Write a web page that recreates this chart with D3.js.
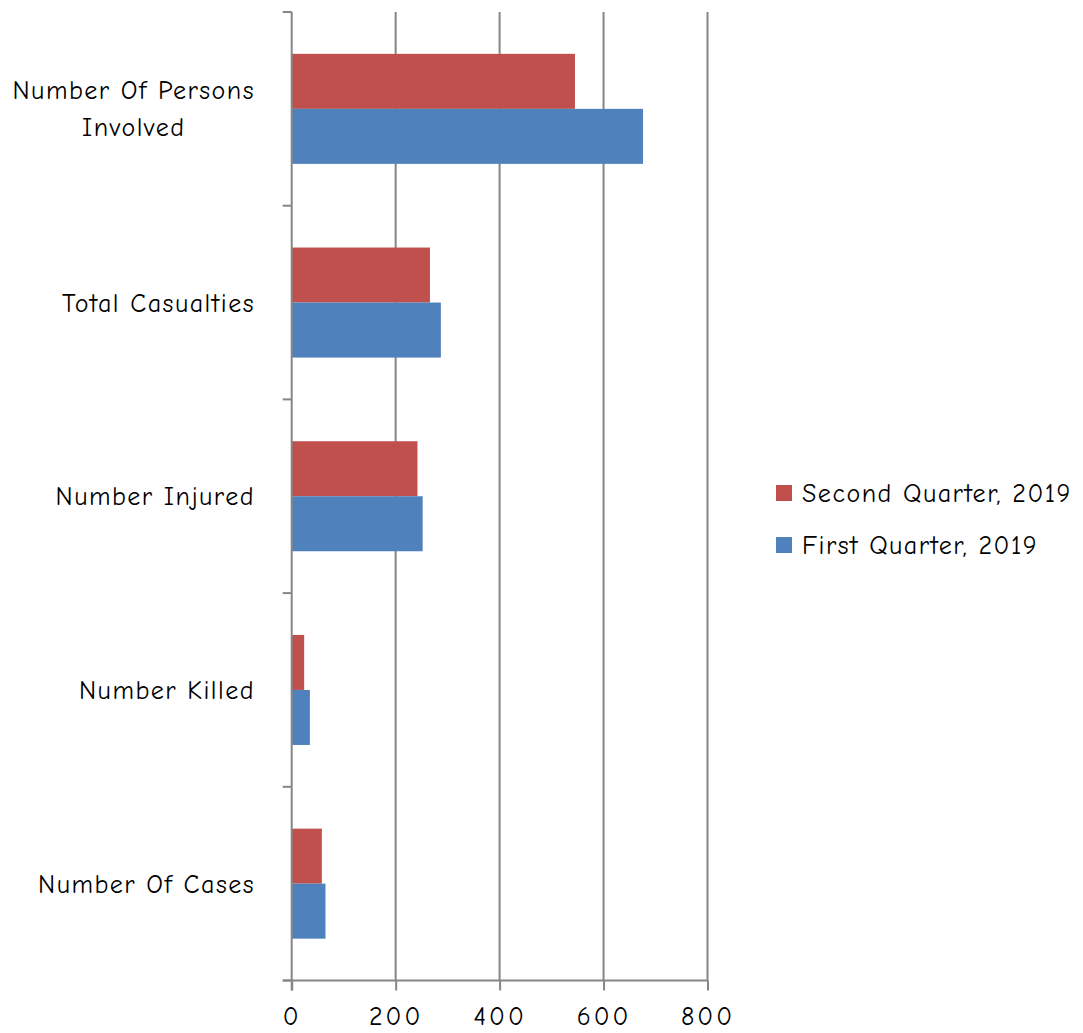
<!DOCTYPE html>
<html>
<head>
<meta charset="utf-8">
<script src="https://cdn.jsdelivr.net/npm/d3@7"></script>
<style>
  html, body { margin: 0; padding: 0; background: #fff; }
  svg { display: block; }
  text { font-family: "Comic Sans MS", "Comic Neue", "Open Sans", "DejaVu Sans", sans-serif; fill: #000; letter-spacing: 1.5px; }
</style>
</head>
<body>
<svg id="chart" width="1083" height="1033"></svg>
<script>
// ---- data ----
const categories = [
  "Number Of Persons Involved",
  "Total Casualties",
  "Number Injured",
  "Number Killed",
  "Number Of Cases"
];
const seriesNames = ["Second Quarter, 2019", "First Quarter, 2019"];
const secondQuarter = [545, 266, 242, 24, 58];
const firstQuarter = [676, 287, 252, 35, 65];
const xTicks = [0, 200, 400, 600, 800];
const seriesColors = ["#C0504D", "#4F81BD"];

// ---- layout ----
const svg = d3.select("#chart");
const plot = { left: 291.7, right: 707.5, top: 12, bottom: 980.5 };
const fontSize = 26;
const fontStack = '"Comic Sans MS", "Comic Neue", "Open Sans", "DejaVu Sans", sans-serif';

const x = d3.scaleLinear().domain([0, 800]).range([plot.left, plot.right]);
const y = d3.scaleBand().domain(categories).range([plot.top, plot.bottom]).paddingInner(0.432).paddingOuter(0.216);
const ySub = d3.scaleBand().domain(seriesNames).range([0, y.bandwidth()]);

const gridColor = "#868686";

// gridlines
svg.append("g").selectAll("line")
  .data(xTicks.filter(d => d > 0))
  .join("line")
  .attr("x1", d => x(d)).attr("x2", d => x(d))
  .attr("y1", plot.top).attr("y2", plot.bottom)
  .attr("stroke", gridColor).attr("stroke-width", 2);

// bars
const rows = categories.map((c, i) => ({ cat: c, vals: [secondQuarter[i], firstQuarter[i]] }));
const groups = svg.append("g").selectAll("g")
  .data(rows).join("g")
  .attr("transform", d => `translate(0,${y(d.cat)})`);
groups.selectAll("rect")
  .data(d => d.vals.map((v, j) => ({ v, s: seriesNames[j], j })))
  .join("rect")
  .attr("x", x(0))
  .attr("y", d => ySub(d.s))
  .attr("width", d => x(d.v) - x(0))
  .attr("height", ySub.bandwidth())
  .attr("fill", d => seriesColors[d.j]);

// y axis line and ticks (category boundaries)
const yAxisG = svg.append("g");
yAxisG.append("line")
  .attr("x1", plot.left).attr("x2", plot.left)
  .attr("y1", plot.top).attr("y2", plot.bottom + 10)
  .attr("stroke", gridColor).attr("stroke-width", 2);
const step = y.step();
const boundaries = d3.range(categories.length + 1).map(i => plot.top + i * step);
yAxisG.selectAll("line.tick")
  .data(boundaries).join("line").attr("class", "tick")
  .attr("x1", plot.left - 9).attr("x2", plot.left)
  .attr("y1", d => d).attr("y2", d => d)
  .attr("stroke", gridColor).attr("stroke-width", 2);

// x axis
const xAxis = d3.axisBottom(x).tickValues(xTicks).tickSize(10).tickPadding(16).tickSizeOuter(0);
const xg = svg.append("g").attr("transform", `translate(0,${plot.bottom})`).call(xAxis);
xg.select(".domain").attr("stroke", gridColor).attr("stroke-width", 2).attr("d", `M${plot.left - 9},0H${plot.right}`);
xg.selectAll(".tick line").attr("stroke", gridColor).attr("stroke-width", 2);
xg.selectAll(".tick text").attr("font-size", fontSize).attr("fill", "#000")
  .style("font-family", fontStack).style("letter-spacing", "3px");

// category labels (wrap to max width, block right-aligned)
const labelRight = 255;
const maxLabelW = 260;
const lineH = 37;
categories.forEach(cat => {
  const words = cat.split(" ");
  const tmp = svg.append("text").attr("font-size", fontSize).attr("visibility", "hidden");
  const lines = [];
  let cur = [];
  words.forEach(w => {
    const test = cur.concat([w]).join(" ");
    tmp.text(test);
    if (tmp.node().getComputedTextLength() > maxLabelW && cur.length) {
      lines.push(cur.join(" "));
      cur = [w];
    } else cur.push(w);
  });
  lines.push(cur.join(" "));
  const widths = lines.map(l => { tmp.text(l); return tmp.node().getComputedTextLength(); });
  tmp.remove();
  const blockW = d3.max(widths);
  const cy = y(cat) + y.bandwidth() / 2;
  const t = svg.append("text")
    .attr("font-size", fontSize)
    .attr("text-anchor", lines.length > 1 ? "middle" : "end");
  const xPos = lines.length > 1 ? labelRight - blockW / 2 : labelRight;
  lines.forEach((l, i) => {
    t.append("tspan")
      .attr("x", xPos)
      .attr("y", cy + (i - (lines.length - 1) / 2) * lineH)
      .attr("dy", "0.35em")
      .text(l);
  });
});

// legend
const legend = svg.append("g").attr("transform", "translate(776,485)");
seriesNames.forEach((s, i) => {
  const g = legend.append("g").attr("transform", `translate(0,${i * 52})`);
  g.append("rect").attr("width", 16).attr("height", 16).attr("fill", seriesColors[i]);
  g.append("text").attr("x", 26).attr("y", 8).attr("dy", "0.35em").attr("font-size", fontSize).text(s);
});
</script>
</body>
</html>
